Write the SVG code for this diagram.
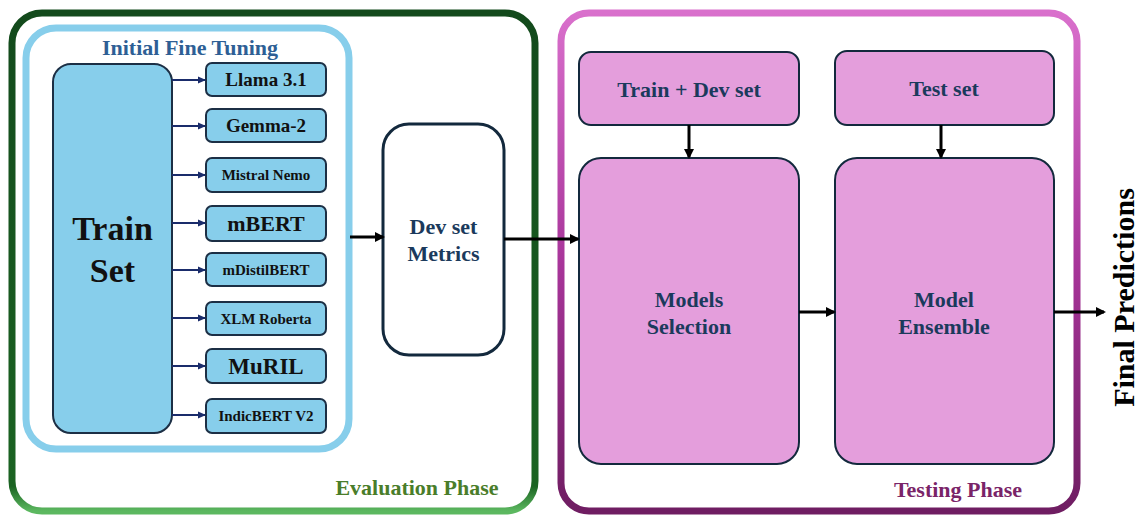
<svg xmlns="http://www.w3.org/2000/svg" width="1138" height="515" viewBox="0 0 1138 515">
<defs>
<linearGradient id="gGreen" x1="0" y1="0" x2="0" y2="1">
<stop offset="0" stop-color="#134a1c"/>
<stop offset="0.95" stop-color="#1b6322"/>
<stop offset="1" stop-color="#5cb860"/>
</linearGradient>
<linearGradient id="gPink" x1="0" y1="0" x2="0" y2="1">
<stop offset="0" stop-color="#d970cc"/>
<stop offset="0.5" stop-color="#a8359a"/>
<stop offset="1" stop-color="#6f1d62"/>
</linearGradient>
<marker id="ahB" markerWidth="10" markerHeight="10" refX="8" refY="5" orient="auto" markerUnits="userSpaceOnUse">
<path d="M0,0 L10,5 L0,10 Z" fill="#000"/>
</marker>
<marker id="ahN" markerWidth="8" markerHeight="8" refX="7" refY="4" orient="auto" markerUnits="userSpaceOnUse">
<path d="M0,0.5 L8,4 L0,7.5 Z" fill="#1a2c6b"/>
</marker>
<style>
text{font-family:"Liberation Serif","Times New Roman",serif;font-weight:bold;}
.blue{fill:#87ceeb;stroke:#1c2f45;stroke-width:2;}
.pink{fill:#e49edc;stroke:#13293d;stroke-width:2;}
.mt{fill:#111;text-anchor:middle;}
.nt{fill:#1b3a5c;text-anchor:middle;font-size:22px;}
.arr{stroke:#000;stroke-width:3;fill:none;marker-end:url(#ahB);}
.sarr{stroke:#1a2c6b;stroke-width:2;fill:none;marker-end:url(#ahN);}
</style>
</defs>
<g id="evaluation-phase">
<rect x="12" y="13" width="523" height="498" rx="30" fill="#fff" stroke="url(#gGreen)" stroke-width="7"/>
<text x="417" y="495" font-size="22" fill="#4a7d2a" text-anchor="middle">Evaluation Phase</text>
</g>
<g id="testing-phase">
<rect x="561" y="13" width="516" height="498" rx="28" fill="#fff" stroke="url(#gPink)" stroke-width="7"/>
<text x="958" y="497" font-size="22" fill="#7a2468" text-anchor="middle">Testing Phase</text>
</g>
<g id="initial-fine-tuning">
<rect x="26" y="28" width="323" height="421" rx="30" fill="#fff" stroke="#87ceeb" stroke-width="7"/>
<text x="190" y="55" font-size="22" fill="#2e5f95" text-anchor="middle">Initial Fine Tuning</text>
</g>
<g id="train-set">
<rect class="blue" x="53" y="64" width="119" height="369" rx="18"/>
<text class="mt" x="112.5" y="240" font-size="34">Train</text>
<text class="mt" x="112.5" y="282" font-size="34">Set</text>
</g>
<g id="llama">
<rect class="blue" x="206" y="63" width="120" height="33" rx="6"/>
<text class="mt" x="266" y="86" font-size="19">Llama 3.1</text>
</g>
<g id="gemma">
<rect class="blue" x="206" y="109" width="120" height="33" rx="6"/>
<text class="mt" x="266" y="132" font-size="19">Gemma-2</text>
</g>
<g id="mistral">
<rect class="blue" x="206" y="158" width="120" height="34" rx="6"/>
<text class="mt" x="266" y="180" font-size="15">Mistral Nemo</text>
</g>
<g id="mbert">
<rect class="blue" x="206" y="206" width="120" height="35" rx="6"/>
<text class="mt" x="266" y="231" font-size="22">mBERT</text>
</g>
<g id="mdistilbert">
<rect class="blue" x="206" y="253" width="120" height="33" rx="6"/>
<text class="mt" x="266" y="275" font-size="15">mDistilBERT</text>
</g>
<g id="xlm-roberta">
<rect class="blue" x="206" y="302" width="120" height="33" rx="6"/>
<text class="mt" x="266" y="324" font-size="15">XLM Roberta</text>
</g>
<g id="muril">
<rect class="blue" x="206" y="349" width="120" height="34" rx="6"/>
<text class="mt" x="266" y="374" font-size="23">MuRIL</text>
</g>
<g id="indicbert">
<rect class="blue" x="206" y="399" width="120" height="34" rx="6"/>
<text class="mt" x="266" y="421" font-size="15">IndicBERT V2</text>
</g>
<g id="dev-set-metrics">
<rect x="383" y="124" width="121" height="231" rx="26" fill="#fff" stroke="#13293d" stroke-width="3"/>
<text class="nt" x="443.5" y="234">Dev set</text>
<text class="nt" x="443.5" y="261">Metrics</text>
</g>
<g id="train-dev-set">
<rect class="pink" x="579" y="52" width="220" height="73" rx="12"/>
<text class="nt" x="689" y="97">Train + Dev set</text>
</g>
<g id="test-set">
<rect class="pink" x="835" y="51" width="219" height="74" rx="12"/>
<text class="nt" x="944" y="96">Test set</text>
</g>
<g id="models-selection">
<rect class="pink" x="579" y="158" width="220" height="306" rx="22"/>
<text class="nt" x="689" y="307">Models</text>
<text class="nt" x="689" y="334">Selection</text>
</g>
<g id="model-ensemble">
<rect class="pink" x="835" y="158" width="219" height="306" rx="22"/>
<text class="nt" x="944" y="307">Model</text>
<text class="nt" x="944" y="334">Ensemble</text>
</g>
<g id="final-predictions">
<text x="0" y="0" font-size="30" fill="#000" text-anchor="middle" transform="translate(1134,297.5) rotate(-90)">Final Predictions</text>
</g>
<g id="connectors">
<line class="sarr" x1="172" y1="80" x2="205" y2="80"/>
<line class="sarr" x1="172" y1="126" x2="205" y2="126"/>
<line class="sarr" x1="172" y1="175" x2="205" y2="175"/>
<line class="sarr" x1="172" y1="223" x2="205" y2="223"/>
<line class="sarr" x1="172" y1="270" x2="205" y2="270"/>
<line class="sarr" x1="172" y1="318" x2="205" y2="318"/>
<line class="sarr" x1="172" y1="366" x2="205" y2="366"/>
<line class="sarr" x1="172" y1="415" x2="205" y2="415"/>
<line class="arr" x1="350" y1="237" x2="383" y2="237"/>
<line class="arr" x1="504" y1="239" x2="578" y2="239"/>
<line class="arr" x1="689" y1="125" x2="689" y2="157"/>
<line class="arr" x1="941" y1="125" x2="941" y2="157"/>
<line class="arr" x1="799" y1="312" x2="834" y2="312"/>
<line class="arr" x1="1054" y1="312" x2="1104" y2="312"/>
</g>
</svg>
